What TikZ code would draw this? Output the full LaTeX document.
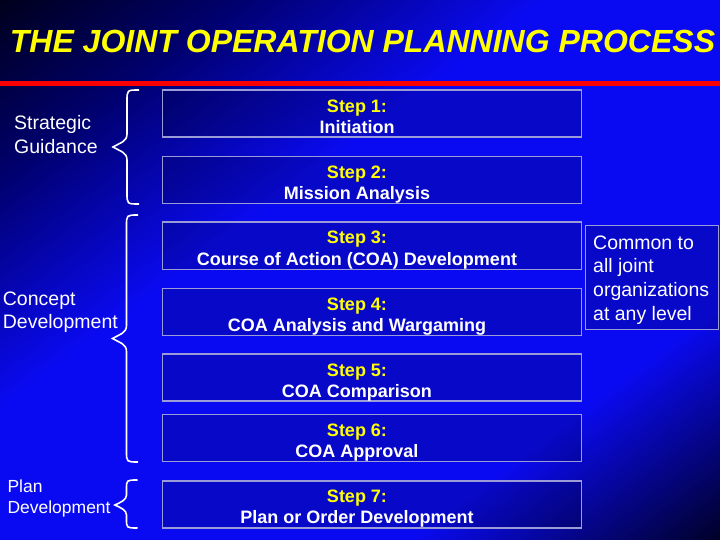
\documentclass[tikz,border=0pt]{standalone}
\usepackage{fontspec}
\setmainfont{Liberation Sans}
\definecolor{bgdark}{RGB}{0,0,22}
\definecolor{bgmid}{RGB}{0,0,110}
\definecolor{bgbright}{RGB}{10,10,242}
\definecolor{bgdarkb}{RGB}{0,0,28}
\definecolor{boxline}{RGB}{155,155,215}
\definecolor{titleyellow}{RGB}{255,255,0}
\definecolor{redbar}{RGB}{250,0,0}
\pgfdeclareverticalshading{bgsh}{100bp}{color(0bp)=(bgdark); color(25bp)=(bgdark); color(33.7bp)=(bgmid); color(44bp)=(bgbright); color(63.8bp)=(bgbright); color(75bp)=(bgdarkb); color(100bp)=(bgdarkb)}
\tikzset{
  stepbox/.style={draw=boxline, line width=1.6pt, fill=black, fill opacity=0.17, minimum width=419pt, minimum height=47pt, inner sep=0pt},
  steptext/.style={text=white, font=\bfseries\fontsize{18}{21}\selectfont, align=center, inner sep=0pt, anchor=base},
  sidelabel/.style={text=white, font=\fontsize{19.5}{24}\selectfont, align=left, inner sep=0pt, anchor=base west},
  bracestyle/.style={draw=white, line width=1.6pt},
  redline/.style={draw=redbar, line width=4.5pt},
  titletext/.style={text=titleyellow, font=\bfseries\itshape\fontsize{32}{36}\selectfont, inner sep=0pt, anchor=base},
}
\newcommand{\stepnum}[1]{\textcolor{titleyellow}{Step #1:}}
\begin{document}
\begin{tikzpicture}[x=1pt,y=-1pt]
\useasboundingbox (0,0) rectangle (720,540);
% background
\begin{scope}
  \clip (0,0) rectangle (720,540);
  \begin{scope}[transform canvas={rotate=216.87}]
    \shade[shading=bgsh] (-620pt,-10pt) rectangle (360pt,874pt);
  \end{scope}
\end{scope}
% title and bar
\node[titletext] (title) at (362.5,52.3) {THE JOINT OPERATION PLANNING PROCESS};
\draw[redline] (0,83.3) -- (720,83.3);
% step boxes
\node[stepbox] (s1) at (372,113.8) {};
\node[stepbox] (s2) at (372,180) {};
\node[stepbox] (s3) at (372,245.8) {};
\node[stepbox] (s4) at (372,311.8) {};
\node[stepbox] (s5) at (372,377.7) {};
\node[stepbox] (s6) at (372,437.8) {};
\node[stepbox] (s7) at (372,504.2) {};
\node[steptext] (t1) at (357,133.3) {\stepnum{1}\\Initiation};
\node[steptext] (t2) at (357,199.3) {\stepnum{2}\\Mission Analysis};
\node[steptext] (t3) at (357,265) {\stepnum{3}\\Course of Action (COA) Development};
\node[steptext] (t4) at (357,331) {\stepnum{4}\\COA Analysis and Wargaming};
\node[steptext] (t5) at (357,397) {\stepnum{5}\\COA Comparison};
\node[steptext] (t6) at (357,457) {\stepnum{6}\\COA Approval};
\node[steptext] (t7) at (357,523.3) {\stepnum{7}\\Plan or Order Development};
% common box
\node[draw=boxline, line width=1.4pt, fill=black, fill opacity=0.17, minimum width=133pt, minimum height=104pt, inner sep=0pt] (common) at (652,277.5) {};
\node[sidelabel, font=\fontsize{19.5}{23.7}\selectfont] (commontext) at (593,320.1) {Common to\\all joint\\organizations\\at any level};
% side labels
\node[sidelabel] (sg) at (14,153.3) {Strategic\\Guidance};
\node[sidelabel, font=\fontsize{19.5}{23}\selectfont] (cd) at (2.7,328.8) {Concept\\Development};
\node[sidelabel, font=\fontsize{17.5}{21}\selectfont] (pd) at (7.3,513.3) {Plan\\Development};
% braces
\draw[bracestyle] (139,90) .. controls (127,90) .. (127,101) -- (127,134) .. controls (127,142) and (119.5,143) .. (113,147) .. controls (119.5,151) and (127,152) .. (127,160) -- (127,193) .. controls (127,204) .. (139,204);
\draw[bracestyle] (138,215) .. controls (126.5,215) .. (126.5,226) -- (126.5,325.5) .. controls (126.5,333.5) and (119,334.5) .. (112.5,338.5) .. controls (119,342.5) and (126.5,343.5) .. (126.5,351.5) -- (126.5,451) .. controls (126.5,462) .. (138,462);
\draw[bracestyle] (137.5,480) .. controls (126.5,480) .. (126.5,489) -- (126.5,495) .. controls (126.5,500) and (121,502) .. (115,505) .. controls (121,508) and (126.5,510) .. (126.5,515) -- (126.5,519) .. controls (126.5,528) .. (137.5,528);
\end{tikzpicture}
\end{document}
